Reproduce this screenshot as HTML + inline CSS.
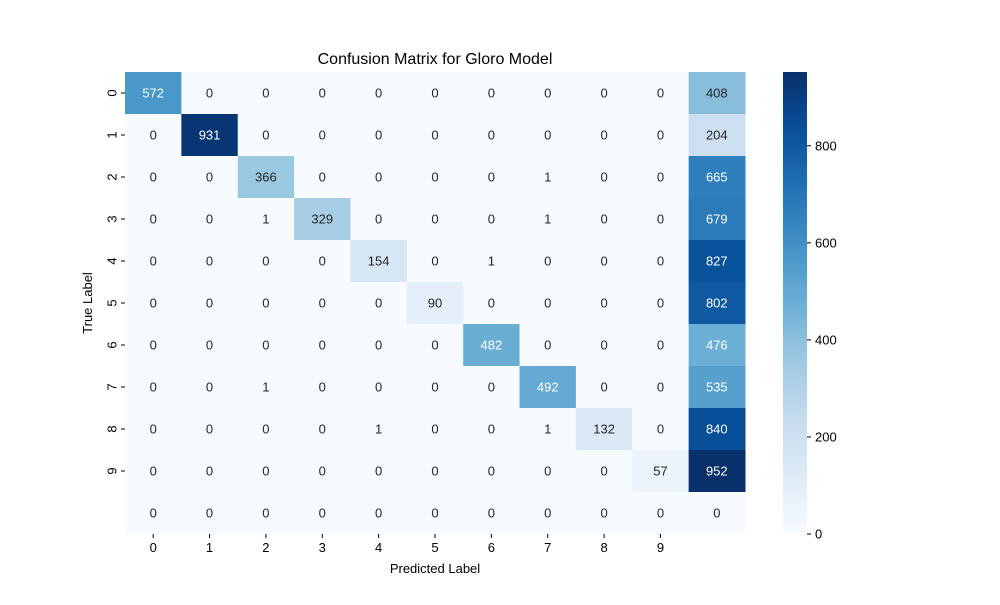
<!DOCTYPE html>
<html><head><meta charset="utf-8"><style>
body{margin:0;background:#fff;}
svg text{font-family:"Liberation Sans","DejaVu Sans",sans-serif;}
</style></head><body>
<svg id="chart" width="1000" height="600" xmlns="http://www.w3.org/2000/svg">
<rect width="1000" height="600" fill="#fff"/>
<text x="435" y="64" font-size="16" text-anchor="middle">Confusion Matrix for Gloro Model</text>
<g id="cells"></g>
<g id="xticks"></g>
<g id="yticks"></g>
<text x="435" y="573" font-size="13" text-anchor="middle">Predicted Label</text>
<text x="92" y="303" font-size="13" text-anchor="middle" transform="rotate(-90 92 303)">True Label</text>
<defs><linearGradient id="cbg" x1="0" y1="1" x2="0" y2="0"></linearGradient></defs>
<rect x="783" y="72" width="24" height="462" fill="url(#cbg)"/>
<g id="cbticks"></g>
</svg>
<script>
const rowLabels=["0","1","2","3","4","5","6","7","8","9",""];
const colLabels=["0","1","2","3","4","5","6","7","8","9",""];
const matrix=[
[572,0,0,0,0,0,0,0,0,0,408],
[0,931,0,0,0,0,0,0,0,0,204],
[0,0,366,0,0,0,0,1,0,0,665],
[0,0,1,329,0,0,0,1,0,0,679],
[0,0,0,0,154,0,1,0,0,0,827],
[0,0,0,0,0,90,0,0,0,0,802],
[0,0,0,0,0,0,482,0,0,0,476],
[0,0,1,0,0,0,0,492,0,0,535],
[0,0,0,0,1,0,0,1,132,0,840],
[0,0,0,0,0,0,0,0,0,57,952],
[0,0,0,0,0,0,0,0,0,0,0]];
const cbTicks=[0,200,400,600,800];
const NS="http://www.w3.org/2000/svg";
const L=125,T=72,W=620,H=462,n=matrix.length;
const vmax=Math.max(...matrix.flat());
const cw=W/n,ch=H/n;
const stops=["#f7fbff","#deebf7","#c6dbef","#9ecae1","#6baed6","#4292c6","#2171b5","#08519c","#08306b"];
function hex(h){return [1,3,5].map(i=>parseInt(h.substr(i,2),16));}
function cmap(t){t=Math.max(0,Math.min(1,t));const p=t*(stops.length-1);const i=Math.min(Math.floor(p),stops.length-2);const f=p-i;const a=hex(stops[i]),b=hex(stops[i+1]);return a.map((v,k)=>Math.round(v+(b[k]-v)*f));}
function lum(c){const l=c.map(v=>{v/=255;return v<=0.03928?v/12.92:Math.pow((v+0.055)/1.055,2.4)});return 0.2126*l[0]+0.7152*l[1]+0.0722*l[2];}
function el(tag,attrs,parent){const e=document.createElementNS(NS,tag);for(const k in attrs)e.setAttribute(k,attrs[k]);parent.appendChild(e);return e;}
const g=document.getElementById('cells');
matrix.forEach((row,r)=>row.forEach((v,c)=>{
 const col=cmap(v/vmax);
 const rc=el('rect',{x:L+c*cw,y:T+r*ch,width:cw+0.5,height:ch+0.5,fill:`rgb(${col})`},g);
 
 
 const tx=el('text',{x:L+(c+0.5)*cw,y:T+(r+0.5)*ch+4.5,'font-size':13,'text-anchor':'middle',fill:lum(col)<0.408?'#fff':'#262626'},g);
 tx.textContent=v;
 
 
}));
const xt=document.getElementById('xticks');
colLabels.forEach((l,i)=>{if(!l)return;const x=L+(i+0.5)*cw;
 const ln=el('line',{x1:x,x2:x,y1:T+H,y2:T+H+4,stroke:'#000'},xt);
 
 
 const t=el('text',{x:x,y:T+H+18,'font-size':13,'text-anchor':'middle'},xt);t.textContent=l;
 
 });
const yt=document.getElementById('yticks');
rowLabels.forEach((l,i)=>{if(!l)return;const y=T+(i+0.5)*ch;
 const ln=el('line',{x1:L-4,x2:L,y1:y,y2:y,stroke:'#000'},yt);
 
 
 const t=el('text',{x:L-13,y:y,'font-size':13,'text-anchor':'middle',transform:`rotate(-90 ${L-13} ${y})`,dy:'0.35em'},yt);t.textContent=l;
 
 });
const grad=document.getElementById('cbg');
for(let i=0;i<=20;i++){el('stop',{offset:i/20,'stop-color':`rgb(${cmap(i/20)})`},grad);}
const cb=document.getElementById('cbticks');
cbTicks.forEach(v=>{const y=T+H-v/vmax*H;
 const ln=el('line',{x1:807,x2:811,y1:y,y2:y,stroke:'#000'},cb);
 
 
 const t=el('text',{x:815,y:y+4.5,'font-size':13},cb);t.textContent=v;
 
 });
</script>
</body></html>
